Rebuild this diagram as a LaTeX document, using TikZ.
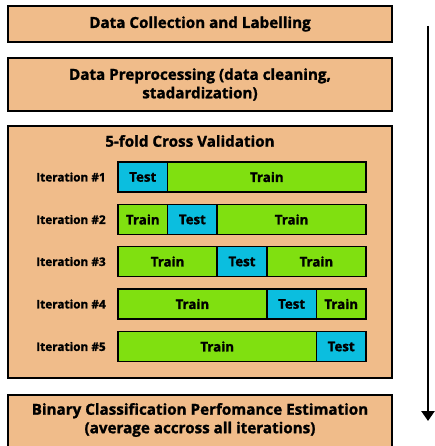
\documentclass[tikz,border=0pt]{standalone}
\usepackage{fontspec}
\setmainfont{Open Sans}[BoldFeatures={FakeBold=1.3}]
\usetikzlibrary{arrows.meta}
\definecolor{boxor}{HTML}{F0BC8A}
\definecolor{testc}{HTML}{0BBEDF}
\definecolor{trainc}{HTML}{80E010}
\begin{document}
\begin{tikzpicture}[x=1pt,y=-1pt,
  stage/.style={draw=black,line width=2.6pt,fill=boxor},
  stagetxt/.style={font=\bfseries\fontsize{15.2}{18.5}\selectfont,align=center},
  seg/.style={draw=black,line width=1.6pt,minimum height=30pt,inner sep=0pt,font=\bfseries\fontsize{13.3}{15}\selectfont},
  testseg/.style={seg,fill=testc},
  trainseg/.style={seg,fill=trainc},
  itlab/.style={font=\bfseries\fontsize{11.8}{13}\selectfont,anchor=center}]
\useasboundingbox (0,0) rectangle (434,446);
% stage boxes
\draw[stage] (8,6) rectangle (392,42);
\node[stagetxt] (s1) at (200,24) {Data Collection and Labelling};
\draw[stage] (8,58) rectangle (392,111);
\node[stagetxt] (s2) at (200,84.5) {Data Preprocessing (data cleaning,\\stadardization)};
\draw[stage] (8,126) rectangle (392,378);
\node[stagetxt] (s3) at (190,141) {5-fold Cross Validation};
\draw[stage] (8,395) rectangle (392,450);
\node[stagetxt] (s4) at (200,420) {Binary Classification Perfomance Estimation\\(average accross all iterations)};
% iterations
\def\W{49.6}
\foreach \r/\y in {1/177,2/219.5,3/261.5,4/304,5/346.5}{
  \node[itlab] (it\r) at (71,\y) {Iteration \#\r};
}
% row 1
\node[testseg,minimum width=\W pt] (r1a) at (142.8,177) {Test};
\node[trainseg,minimum width=4*\W pt] (r1b) at (266.8,177) {Train};
% row 2
\node[trainseg,minimum width=\W pt] (r2a) at (142.8,219.5) {Train};
\node[testseg,minimum width=\W pt] (r2b) at (192.4,219.5) {Test};
\node[trainseg,minimum width=3*\W pt] (r2c) at (291.6,219.5) {Train};
% row 3
\node[trainseg,minimum width=2*\W pt] (r3a) at (167.6,261.5) {Train};
\node[testseg,minimum width=\W pt] (r3b) at (242,261.5) {Test};
\node[trainseg,minimum width=2*\W pt] (r3c) at (316.4,261.5) {Train};
% row 4
\node[trainseg,minimum width=3*\W pt] (r4a) at (192.4,304) {Train};
\node[testseg,minimum width=\W pt] (r4b) at (291.6,304) {Test};
\node[trainseg,minimum width=\W pt] (r4c) at (341.2,304) {Train};
% row 5
\node[trainseg,minimum width=4*\W pt] (r5a) at (217.2,346.5) {Train};
\node[testseg,minimum width=\W pt] (r5b) at (341.2,346.5) {Test};
% arrow
\coordinate (atop) at (428,26);
\coordinate (abot) at (428,421);
\draw[line width=2.6pt,-{Triangle[length=10pt,width=13pt]}] (atop) -- (abot);
\end{tikzpicture}
\end{document}
